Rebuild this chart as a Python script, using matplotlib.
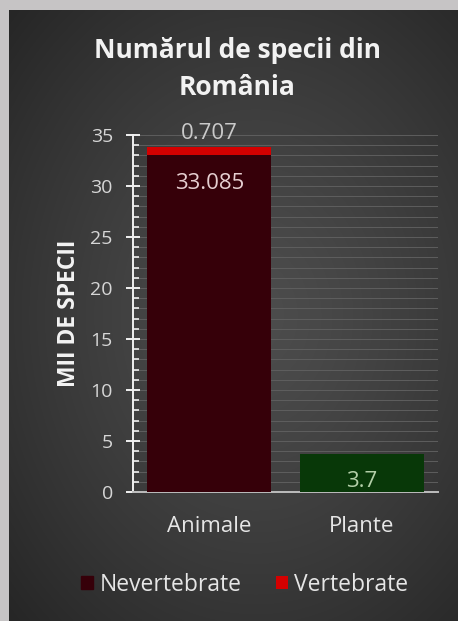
import numpy as np
import matplotlib
matplotlib.use("Agg")
import matplotlib.pyplot as plt
from matplotlib.ticker import MultipleLocator

categories = ["Animale", "Plante"]
nevertebrate = [33.085, 3.7]
vertebrate = [0.707, 0.0]
bar_colors = ["#360009", "#083808"]
vert_color = "#d40000"
title = "Numărul de specii din\nRomânia"
ylabel = "MII DE SPECII"

plt.rcParams['font.family'] = ['Open Sans', 'DejaVu Sans']

W, H = 458, 621
fig = plt.figure(figsize=(W/100, H/100), dpi=100)
fig.patch.set_facecolor("#c6c4c5")

# dark gradient background panel
bg = fig.add_axes([9/W, 0, 1-9/W, 1-10/H])
bg.set_axis_off()
yy, xx = np.mgrid[0:1:300j, 0:1:300j]
r = np.sqrt(((xx-0.55)/0.8)**2 + ((yy-0.5)/0.75)**2)
img = 0.30 - 0.16*np.clip(r, 0, 1)**1.3
bg.imshow(np.dstack([img]*3), extent=[0, 1, 0, 1], aspect='auto', interpolation='bilinear')
bg.set_xlim(0, 1); bg.set_ylim(0, 1)

ax = fig.add_axes([133/W, 129/H, (438-133)/W, (492-135)/H])
ax.set_facecolor("none")
x = np.arange(len(categories))
b1 = ax.bar(x, nevertebrate, width=0.81, color=bar_colors, label="Nevertebrate", zorder=3)
b2 = ax.bar(x, vertebrate, width=0.81, bottom=nevertebrate, color=vert_color, label="Vertebrate", zorder=3)
ax.set_xlim(-0.5, 1.5)
ax.set_ylim(0, 35)
ax.yaxis.set_major_locator(MultipleLocator(5))
ax.yaxis.set_minor_locator(MultipleLocator(1))
ax.grid(which='both', axis='y', color="#5e5e5e", linewidth=0.7, zorder=0)
for s in ['top', 'right']:
    ax.spines[s].set_visible(False)
ax.spines['left'].set_color("#f0f0f0")
ax.spines['left'].set_linewidth(1.4)
ax.spines['bottom'].set_color("#bdbdbd")
ax.spines['bottom'].set_linewidth(1.4)
ax.tick_params(axis='y', which='major', direction='inout', length=10, width=1.4, color="#f0f0f0",
               labelcolor="#d6d6d6", labelsize=14, pad=9.5)
ax.tick_params(axis='y', which='minor', direction='in', length=4.3, width=1.2, color="#f0f0f0")
ax.tick_params(axis='x', length=0, labelcolor="#e6e6e6", labelsize=16, pad=17)
ax.set_xticks(x)
ax.set_xticklabels(categories)
ax.set_ylabel(ylabel, color="#f4f4f4", fontsize=16.5, fontweight='bold', labelpad=7)

# data labels
ax.text(x[0], nevertebrate[0] + vertebrate[0] + 1.4, f"{vertebrate[0]:.3f}", ha='center', va='center',
        color="#cacaca", fontsize=16)
ax.text(x[0], nevertebrate[0] - 2.8, f"{nevertebrate[0]:.3f}", ha='center', va='center',
        color="#e6cfd1", fontsize=16)
ax.text(x[1], 1.0, f"{nevertebrate[1]:.1f}", ha='center', va='center',
        color="#b3cfa8", fontsize=16)

fig.text(237/W, 1-69/H, title, ha='center', va='center', color="#f2f2f2", fontsize=19,
         fontweight='bold', linespacing=1.45)

leg = fig.legend(handles=[b1[0], b2[0]], labels=["Nevertebrate", "Vertebrate"], loc='center',
                 bbox_to_anchor=(245/W, 1-585/H), ncol=2, frameon=False, fontsize=16.5,
                 handlelength=0.5, handleheight=0.5, handletextpad=0.3, columnspacing=1.5)
for t in leg.get_texts():
    t.set_color("#e6e6e6")
leg.legend_handles[0].set_color(bar_colors[0])

fig.savefig("out.png", dpi=100, facecolor=fig.get_facecolor())
